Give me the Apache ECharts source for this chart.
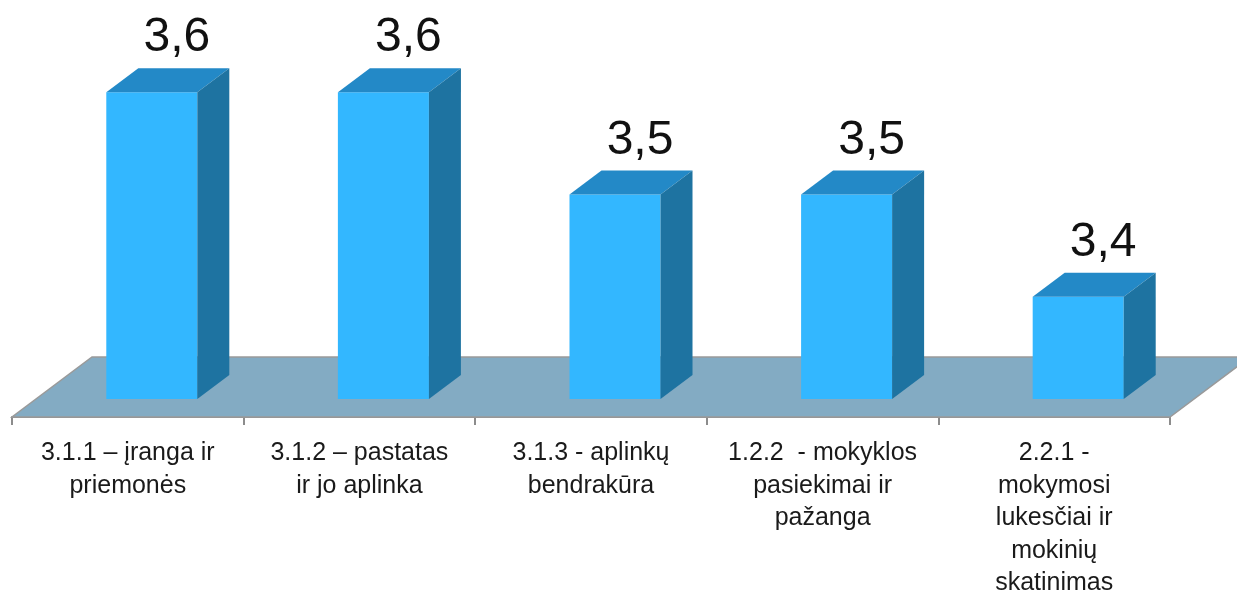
<!DOCTYPE html>
<html>
<head>
<meta charset="utf-8">
<script src="https://cdn.jsdelivr.net/npm/echarts@6/dist/echarts.min.js"></script>
<style>
  html, body { margin: 0; padding: 0; background: #fff; overflow: hidden; }
  #chart { width: 1237px; height: 595px; }
</style>
</head>
<body>
<div id="chart"></div>
<script>
const categories = [
  '3.1.1 – įranga ir\npriemonės',
  '3.1.2 – pastatas\nir jo aplinka',
  '3.1.3 - aplinkų\nbendrakūra',
  '1.2.2  - mokyklos\npasiekimai ir\npažanga',
  '2.2.1 -\nmokymosi\nlukesčiai ir\nmokinių\nskatinimas'
]
const values = [3.6, 3.6, 3.5, 3.5, 3.4]
const axisMin = 3.3
const axisMax = 3.7

// floor depth vector and bar placement inside it
const DX = 80, DY = -60
const FRONT = 0.3, DEPTH = 0.4
const BAR_FRAC = 0.393

const chart = echarts.init(document.getElementById('chart'))

function renderFloor(params, api) {
  const cs = params.coordSys
  const x = cs.x, y = cs.y + cs.height, w = cs.width
  return {
    type: 'polygon',
    shape: { points: [[x, y], [x + w, y], [x + w + DX, y + DY], [x + DX, y + DY]] },
    style: { fill: '#83abc3', stroke: '#9a9a9a', lineWidth: 1.5 }
  }
}

function renderBar(params, api) {
  const i = api.value(0)
  const v = api.value(1)
  const base = api.coord([i, axisMin])
  const top = api.coord([i, v])
  const bw = api.size([1, 0])[0] * BAR_FRAC
  const fx = FRONT * DX, fy = FRONT * DY
  const dx = DEPTH * DX, dy = DEPTH * DY
  const x0 = base[0] + fx - bw / 2
  const yB = base[1] + fy
  const yT = top[1] + fy
  return {
    type: 'group',
    children: [
      {
        type: 'rect',
        shape: { x: x0, y: yT, width: bw, height: yB - yT },
        style: { fill: '#33b7ff' }
      },
      {
        type: 'polygon',
        shape: { points: [[x0, yT], [x0 + bw, yT], [x0 + bw + dx, yT + dy], [x0 + dx, yT + dy]] },
        style: { fill: '#2389c7' }
      },
      {
        type: 'polygon',
        shape: { points: [[x0 + bw, yT], [x0 + bw + dx, yT + dy], [x0 + bw + dx, yB + dy], [x0 + bw, yB]] },
        style: { fill: '#1e73a1' }
      },
      {
        type: 'text',
        style: {
          x: x0 + bw / 2 + 25,
          y: yT + dy - 6,
          text: v.toFixed(1).replace('.', ','),
          fill: '#111',
          font: '48px "Liberation Sans", Arial, sans-serif',
          textAlign: 'center',
          textVerticalAlign: 'bottom'
        }
      }
    ]
  }
}

chart.setOption({
  animation: false,
  grid: { left: 12, right: 67, top: 8, bottom: 178, outerBoundsMode: 'none', containLabel: false },
  xAxis: {
    type: 'category',
    data: categories,
    boundaryGap: true,
    axisLine: { show: true, lineStyle: { color: '#8c8c8c', width: 2 } },
    axisTick: { show: true, length: 8, lineStyle: { color: '#8c8c8c', width: 2 } },
    axisLabel: {
      interval: 0,
      margin: 20,
      color: '#1a1a1a',
      fontSize: 25,
      lineHeight: 32.5,
      fontFamily: '"Liberation Sans", Arial, sans-serif'
    },
    splitLine: { show: false }
  },
  yAxis: {
    type: 'value',
    min: axisMin,
    max: axisMax,
    show: false,
    splitLine: { show: false }
  },
  series: [
    {
      type: 'custom',
      z: 1,
      silent: true,
      renderItem: renderFloor,
      data: [[0, axisMin]]
    },
    {
      type: 'custom',
      z: 2,
      renderItem: renderBar,
      data: values.map((v, i) => [i, v])
    }
  ]
})
</script>
</body>
</html>
